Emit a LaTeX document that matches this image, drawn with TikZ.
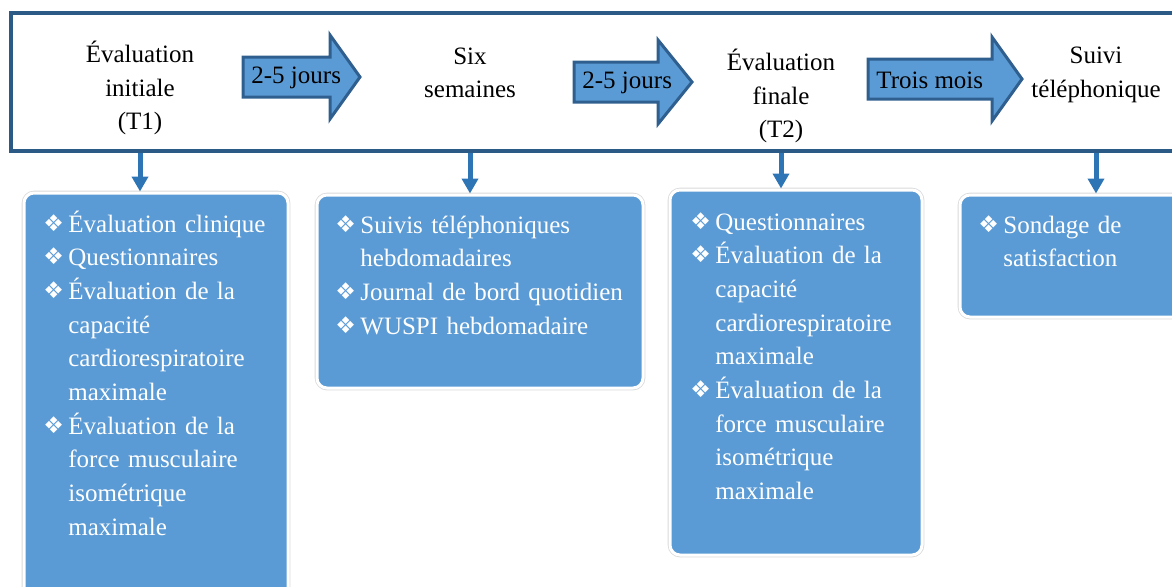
\documentclass[tikz,border=0pt]{standalone}
\usepackage{fontspec}
\setmainfont{Liberation Serif}
\newfontfamily\symb{DejaVu Sans}
\usepackage{tikz}
\usetikzlibrary{positioning}
\usetikzlibrary{calc}
\usetikzlibrary{arrows.meta,fit}

\definecolor{bleuclair}{HTML}{5B9BD5}
\definecolor{bleucadre}{HTML}{2C5A87}
\definecolor{bleufleche}{HTML}{2E75B6}
\definecolor{bleubord}{HTML}{2F5F8F}

% puce des listes
\newcommand{\puce}{\hangindent=12.5pt\hangafter=1\noindent\makebox[12.5pt][l]{\raisebox{0.5pt}{\symb\fontsize{11.5}{11.5}\selectfont ❖}}}
% fleche epaisse : nom, debut, tete, pointe, milieu, texte
\newcommand{\flechebloc}[6]{%
	\draw[bloc] (#2,#5-20) -- (#3,#5-20) -- (#3,#5-42) -- (#4,#5) -- (#3,#5+42) -- (#3,#5+20) -- (#2,#5+20) -- cycle;
	\node[duree] (#1) at (#2+8,#5+1) {#6};}

\begin{document}
\begin{tikzpicture}[x=0.5pt,y=-0.5pt,
	bande/.style={draw=bleucadre, line width=2.25pt, inner sep=0pt},
	etape/.style={align=center, inner sep=0pt, font=\fontsize{12.5}{16.8}\selectfont},
	bloc/.style={fill=bleuclair, draw=bleubord, line width=1.5pt, line join=miter},
	duree/.style={anchor=west, inner sep=0pt, font=\fontsize{12.5}{15}\selectfont},
	boite/.style={fill=bleuclair, draw=white, line width=1.5pt, rounded corners=5pt, inner sep=0pt,
		preaction={draw=black!15, line width=2.3pt}},
	liste/.style={text width=170pt, anchor=base west, inner sep=0pt, text=white,
		font=\fontsize{12.5}{16.85}\selectfont},
	fleche/.style={draw=bleufleche, line width=2.5pt, -{Triangle[width=8pt,length=7.5pt]}}]
	\useasboundingbox (0,0) rectangle (1172,586);
	\clip (0,0) rectangle (1172,586);
	% bandeau
	\node[bande, fit={(11,13) (1195,151)}] (bande) {};
	\coordinate (bas) at (0,153);
	\node[etape] (t1) at (140,88) {Évaluation\\initiale\\(T1)};
	\node[etape] (t2) at (470,73) {Six\\semaines};
	\node[etape] (t3) at (781,96) {Évaluation\\finale\\(T2)};
	\node[etape] (t4) at (1096,75) {Suivi\\téléphonique};
	\flechebloc{d1}{243}{330}{360}{77}{2-5 jours}
	\flechebloc{d2}{574}{658}{692}{82}{2-5 jours}
	\flechebloc{d3}{868}{992}{1022}{79}{Trois mois}
	% boites
	\node[boite, fit={(24,193) (288,610)}] (b1) {};
	\node[boite, fit={(317,195) (643,388)}] (b2) {};
	\node[boite, fit={(670,190) (922,555)}] (b3) {};
	\node[boite, fit={(960,195) (1195,317)}] (b4) {};
	\node[liste] (l1) at (43,232) {\puce Évaluation clinique\par
		\puce Questionnaires\par
		\puce Évaluation de la\newline capacité\newline cardiorespiratoire\newline maximale\par
		\puce Évaluation de la\newline force musculaire\newline isométrique\newline maximale\par};
	\node[liste] (l2) at (335,233) {\puce Suivis téléphoniques\newline hebdomadaires\par
		\puce Journal de bord quotidien\par
		\puce WUSPI hebdomadaire\par};
	\node[liste] (l3) at (690,230) {\puce Questionnaires\par
		\puce Évaluation de la\newline capacité\newline cardiorespiratoire\newline maximale\par
		\puce Évaluation de la\newline force musculaire\newline isométrique\newline maximale\par};
	\node[liste] (l4) at (978,233) {\puce Sondage de\newline satisfaction\par};
	% liens
	\draw[fleche] (t1 |- bas) -- (t1 |- b1.north);
	\draw[fleche] (t2 |- bas) -- (t2 |- b2.north);
	\draw[fleche] (t3 |- bas) -- (t3 |- b3.north);
	\draw[fleche] (t4 |- bas) -- (t4 |- b4.north);
\end{tikzpicture}
\end{document}
